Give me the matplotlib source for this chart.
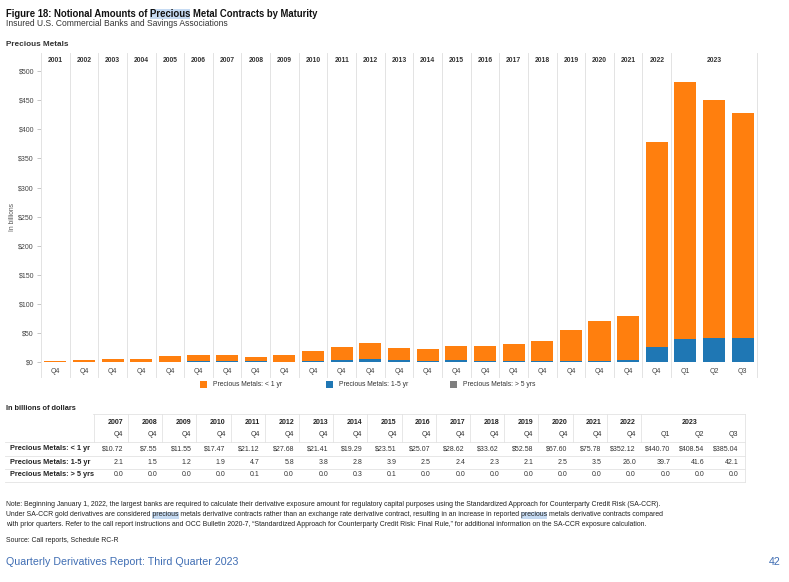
import matplotlib
matplotlib.use('Agg')
import matplotlib.pyplot as plt
from matplotlib.patches import Rectangle
from matplotlib.lines import Line2D
import matplotlib.transforms as mtransforms

# ---------------- data ----------------
years = ['2001', '2002', '2003', '2004', '2005', '2006', '2007', '2008', '2009', '2010',
         '2011', '2012', '2013', '2014', '2015', '2016', '2017', '2018', '2019', '2020',
         '2021', '2022', '2023']
bar_years = years[:-1] + ['2023', '2023', '2023']
periods = ['Q4'] * 22 + ['Q1', 'Q2', 'Q3']
lt1yr = [2.0, 3.6, 4.6, 4.8, 9.4, 10.6, 10.72, 7.55, 11.55, 17.47, 21.12, 27.68, 21.41,
         19.29, 23.51, 25.07, 28.62, 33.62, 52.58, 67.60, 75.78, 352.12, 440.70, 408.54, 385.04]
yr1to5 = [0.4, 0.5, 0.8, 0.8, 1.2, 1.5, 2.1, 1.5, 1.2, 1.9, 4.7, 5.8, 3.8, 2.8, 3.9, 2.5,
          2.4, 2.3, 2.1, 2.5, 3.5, 26.0, 39.7, 41.6, 42.1]
gt5yr = [0.0, 0.0, 0.0, 0.0, 0.0, 0.0, 0.0, 0.0, 0.0, 0.0, 0.1, 0.0, 0.0, 0.3, 0.1, 0.0,
         0.0, 0.0, 0.0, 0.0, 0.0, 0.0, 0.0, 0.0, 0.0]
yticks = [0, 50, 100, 150, 200, 250, 300, 350, 400, 450, 500]
series_names = ['Precious Metals: < 1 yr', 'Precious Metals: 1-5 yr', 'Precious Metals: > 5 yrs']
table_start = 6  # table starts at 2007

C_OR = '#FF7F0E'
C_BL = '#1F77B4'
C_GR = '#7F7F7F'
SEP = '#E3E3E3'
HL = '#C6DBF3'

W, H = 789, 582
fig = plt.figure(figsize=(W / 100, H / 100), dpi=100)
plt.rcParams['font.family'] = ['Liberation Sans', 'DejaVu Sans']


def fx(x):
    return x / W


def fy(y):
    return 1 - y / H


# ---------------- main axes ----------------
ax = fig.add_axes([fx(41), fy(364), (757 - 41) / W, (364 - 65) / H])
n = len(periods)
xs = list(range(n))
bw = 0.77
ax.bar(xs, yr1to5, bw, color=C_BL, zorder=3)
bot2 = [a for a in yr1to5]
ax.bar(xs, gt5yr, bw, bottom=bot2, color=C_GR, zorder=3)
bot3 = [a + b for a, b in zip(yr1to5, gt5yr)]
ax.bar(xs, lt1yr, bw, bottom=bot3, color=C_OR, zorder=3)

ax.set_xlim(-0.5, n - 0.5)
ax.set_ylim(-2.9, 510.3)
for s in ax.spines.values():
    s.set_visible(False)
ax.set_yticks(yticks)
ax.set_yticklabels([f'${v}' for v in yticks])
ax.tick_params(axis='y', length=3, width=0.6, color='#BBBBBB', labelsize=5, labelcolor='#444444', pad=2)
ax.set_xticks(xs)
ax.set_xticklabels(periods)
ax.tick_params(axis='x', length=0, labelsize=5, labelcolor='#444444', pad=3)

# vertical separators
tr = mtransforms.blended_transform_factory(ax.transData, fig.transFigure)
bounds = [i - 0.5 for i in range(23)] + [n - 0.5]
for b in bounds:
    fig.add_artist(Line2D([b, b], [fy(53), fy(377)], transform=tr, color=SEP, lw=0.7, zorder=1))

# year header
for i, y in enumerate(years):
    idxs = [k for k, by in enumerate(bar_years) if by == y]
    cx = sum(idxs) / len(idxs)
    fig.text(0, fy(60), y, transform=tr, fontsize=4.9, fontweight='bold', color='#333333',
             ha='center', va='center').set_x(cx)

fig.text(fx(13), fy(217), 'In billions', rotation=90, fontsize=4.8, color='#555555',
         ha='center', va='center')

# ---------------- legend ----------------
leg_x = [200, 326, 450]
for lx, col, name in zip(leg_x, [C_OR, C_BL, C_GR], series_names):
    fig.add_artist(Rectangle((fx(lx), fy(388)), 7 / W, 7 / H, transform=fig.transFigure,
                             color=col, lw=0))
    fig.text(fx(lx + 13), fy(384.5), name, fontsize=4.9, color='#333333', va='center', ha='left')

# ---------------- titles ----------------
fig.canvas.draw()
renderer = fig.canvas.get_renderer()


def hl_text(x, y, s, spans, **kw):
    t = fig.text(fx(x), fy(y), s, va='center', ha='left', zorder=3, **kw)
    bb = t.get_window_extent(renderer)
    for (a, b) in spans:
        t1 = fig.text(0, 0, s[:b], **kw)
        t2 = fig.text(0, 0, s[a:b], **kw)
        w1 = t1.get_window_extent(renderer).width
        w2 = t2.get_window_extent(renderer).width
        t1.remove()
        t2.remove()
        x0 = bb.x0 + w1 - w2
        fig.add_artist(Rectangle((x0 / W, bb.y0 / H), w2 / W, bb.height / H,
                                 transform=fig.transFigure, color=HL, lw=0, zorder=2))
    return t


title = 'Figure 18: Notional Amounts of Precious Metal Contracts by Maturity'
i0 = title.index('Precious')
hl_text(6, 14, title, [(i0, i0 + 8)], fontsize=6.85, fontweight='bold', color='#111111')
fig.text(fx(6), fy(24), 'Insured U.S. Commercial Banks and Savings Associations', fontsize=6.15,
         color='#333333', va='center')
fig.text(fx(6), fy(45), 'Precious Metals', fontsize=5.9, fontweight='bold', color='#333333', va='center')

# ---------------- table ----------------
fig.text(fx(6), fy(409), 'In billions of dollars', fontsize=5.3, fontweight='bold', color='#222222', va='center')
tyears = bar_years[table_start:]
tper = periods[table_start:]
ncol = len(tyears)
R0, step = 123, 34.2
rights = [R0 + step * i for i in range(ncol)]
tfs = 5.0
# header years
done = set()
for i, (yy, pp) in enumerate(zip(tyears, tper)):
    if yy == '2023':
        if yy not in done:
            idxs = [k for k, v in enumerate(tyears) if v == yy]
            cx = (rights[idxs[0]] - 15 + rights[idxs[-1]] - 15) / 2
            fig.text(fx(cx), fy(422), yy, fontsize=tfs, fontweight='bold', color='#222222', ha='center', va='center')
            done.add(yy)
    else:
        fig.text(fx(rights[i]), fy(422), yy, fontsize=tfs, fontweight='bold', color='#222222', ha='right', va='center')
    fig.text(fx(rights[i]), fy(435), pp, fontsize=tfs, color='#333333', ha='right', va='center')

row_y = [449, 462, 475]
rows = [lt1yr[table_start:], yr1to5[table_start:], gt5yr[table_start:]]
for r, (ry, vals, name) in enumerate(zip(row_y, rows, series_names)):
    fig.text(fx(10), fy(ry), name, fontsize=5.3, fontweight='bold', color='#222222', va='center')
    for i, v in enumerate(vals):
        s = f'${v:.2f}' if r == 0 else f'{v:.1f}'
        fig.text(fx(rights[i]), fy(ry), s, fontsize=tfs, color='#333333', ha='right', va='center')

# table lines
tlx_right = rights[-1] + 6
lines = [((93, tlx_right), (414, 414))]
for yl in [442, 455.5, 468.5, 482]:
    lines.append(((5, tlx_right), (yl, yl)))
lines.append(((tlx_right, tlx_right), (414, 482)))
for i in range(ncol):
    if tyears[i] == '2023':
        continue
    xb = rights[i] + 5 - step
    lines.append(((xb, xb), (414, 442)))
xb = rights[tyears.index('2023')] + 5 - step
lines.append(((xb, xb), (414, 442)))
for (xa, xb2), (ya, yb) in lines:
    fig.add_artist(Line2D([fx(xa), fx(xb2)], [fy(ya), fy(yb)], transform=fig.transFigure,
                          color=SEP, lw=0.6))

# ---------------- notes ----------------
nfam = ['Liberation Sans Narrow', 'Liberation Sans', 'DejaVu Sans']
nfs = 4.95
note1 = ('Note: Beginning January 1, 2022, the largest banks are required to calculate their derivative exposure '
         'amount for regulatory capital purposes using the Standardized Approach for Counterparty Credit Risk (SA-CCR).')
note2 = ('Under SA-CCR gold derivatives are considered precious metals derivative contracts rather than an exchange '
         'rate derivative contract, resulting in an increase in reported precious metals derivative contracts compared')
note3 = ('with prior quarters. Refer to the call report instructions and OCC Bulletin 2020-7, \u201cStandardized Approach '
         'for Counterparty Credit Risk: Final Rule,\u201d for additional information on the SA-CCR exposure calculation.')
fig.text(fx(6), fy(505), note1, fontsize=nfs, family=nfam, color='#222222', va='center')
a1 = note2.index('precious')
a2 = note2.index('precious', a1 + 1)
hl_text(6, 515, note2, [(a1, a1 + 8), (a2, a2 + 8)], fontsize=nfs, family=nfam, color='#222222')
fig.text(fx(6), fy(525), note3, fontsize=nfs, family=nfam, color='#222222', va='center')
fig.text(fx(6), fy(541), 'Source: Call reports, Schedule RC-R', fontsize=nfs, family=nfam,
         color='#222222', va='center')

fig.text(fx(6), fy(562), 'Quarterly Derivatives Report: Third Quarter 2023', fontsize=7.7,
         color='#3F6DB3', va='center')
fig.text(fx(781), fy(562), '42', fontsize=7.7, color='#3F6DB3', va='center', ha='right')

fig.savefig('out.png', dpi=100)
